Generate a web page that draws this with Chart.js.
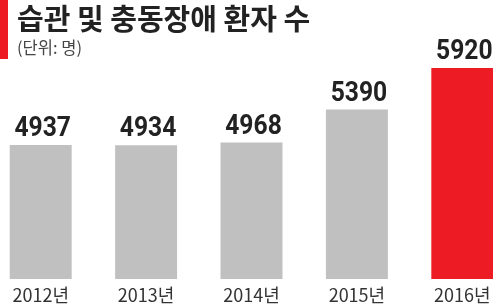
<!DOCTYPE html>
<html>
<head>
<meta charset="utf-8">
<script src="https://cdn.jsdelivr.net/npm/chart.js@4"></script>
<style>
  html, body { margin: 0; padding: 0; background: #fff; }
  body { width: 493px; height: 307px; position: relative; overflow: hidden; }
  #mark { position: absolute; left: 0; top: 0; width: 8px; height: 59px; background: #ed1c24; }
  #title { position: absolute; left: 17px; top: 3px; font: 700 29px 'Noto Sans CJK KR', sans-serif; line-height: 29px; color: #222; white-space: nowrap; z-index: 2; }
  #unit { position: absolute; left: 17px; top: 38px; font: 400 16.5px 'Noto Sans CJK KR', sans-serif; line-height: 18px; color: #444; z-index: 2; }
  #wrap { position: absolute; left: -12px; top: 0; width: 527px; height: 311px; }
</style>
</head>
<body>
<div id="mark"></div>
<div id="title">습관 및 충동장애 환자 수</div>
<div id="unit">(단위: 명)</div>
<div id="wrap"><canvas id="chart"></canvas></div>
<script>
const years = ['2012년', '2013년', '2014년', '2015년', '2016년'];
const patients = [4937, 4934, 4968, 5390, 5920];
const barColors = ['#c0c0c0', '#c0c0c0', '#c0c0c0', '#c0c0c0', '#ed1c24'];

// big numbers above the bars, squeezed a bit to look condensed
const valueLabels = {
    id: 'valueLabels',
    afterDatasetsDraw(chart) {
        const ctx = chart.ctx;
        const meta = chart.getDatasetMeta(0);
        meta.data.forEach(function (bar, i) {
            ctx.save();
            ctx.translate(bar.x + 2, bar.y - 9);
            ctx.scale(0.88, 1);
            ctx.font = "bold 28px Roboto, sans-serif";
            ctx.fillStyle = '#222';
            ctx.textAlign = 'center';
            ctx.textBaseline = 'alphabetic';
            ctx.fillText(patients[i].toString(), 0, 0);
            ctx.restore();
        });
    }
};

const config = {
    type: 'bar',
    data: {
        labels: years,
        datasets: [{
            data: patients,
            backgroundColor: barColors,
            borderWidth: 0,
            barPercentage: 0.588,
            categoryPercentage: 1
        }]
    },
    options: {
        responsive: true,
        maintainAspectRatio: false,
        animation: false,
        layout: { padding: { top: 30, left: 0, right: 0, bottom: 0 } },
        plugins: {
            legend: { display: false },
            tooltip: { enabled: false }
        },
        scales: {
            x: {
                grid: { display: false, drawTicks: false },
                border: { display: false },
                ticks: {
                    color: '#333',
                    padding: 7,
                    font: { family: "'Liberation Sans Narrow', 'Noto Sans CJK KR', sans-serif", size: 18, lineHeight: 1 }
                }
            },
            y: {
                display: false,
                min: 3226,
                max: 6406
            }
        }
    },
    plugins: [valueLabels]
};

new Chart(document.getElementById('chart'), config);
</script>
</body>
</html>
